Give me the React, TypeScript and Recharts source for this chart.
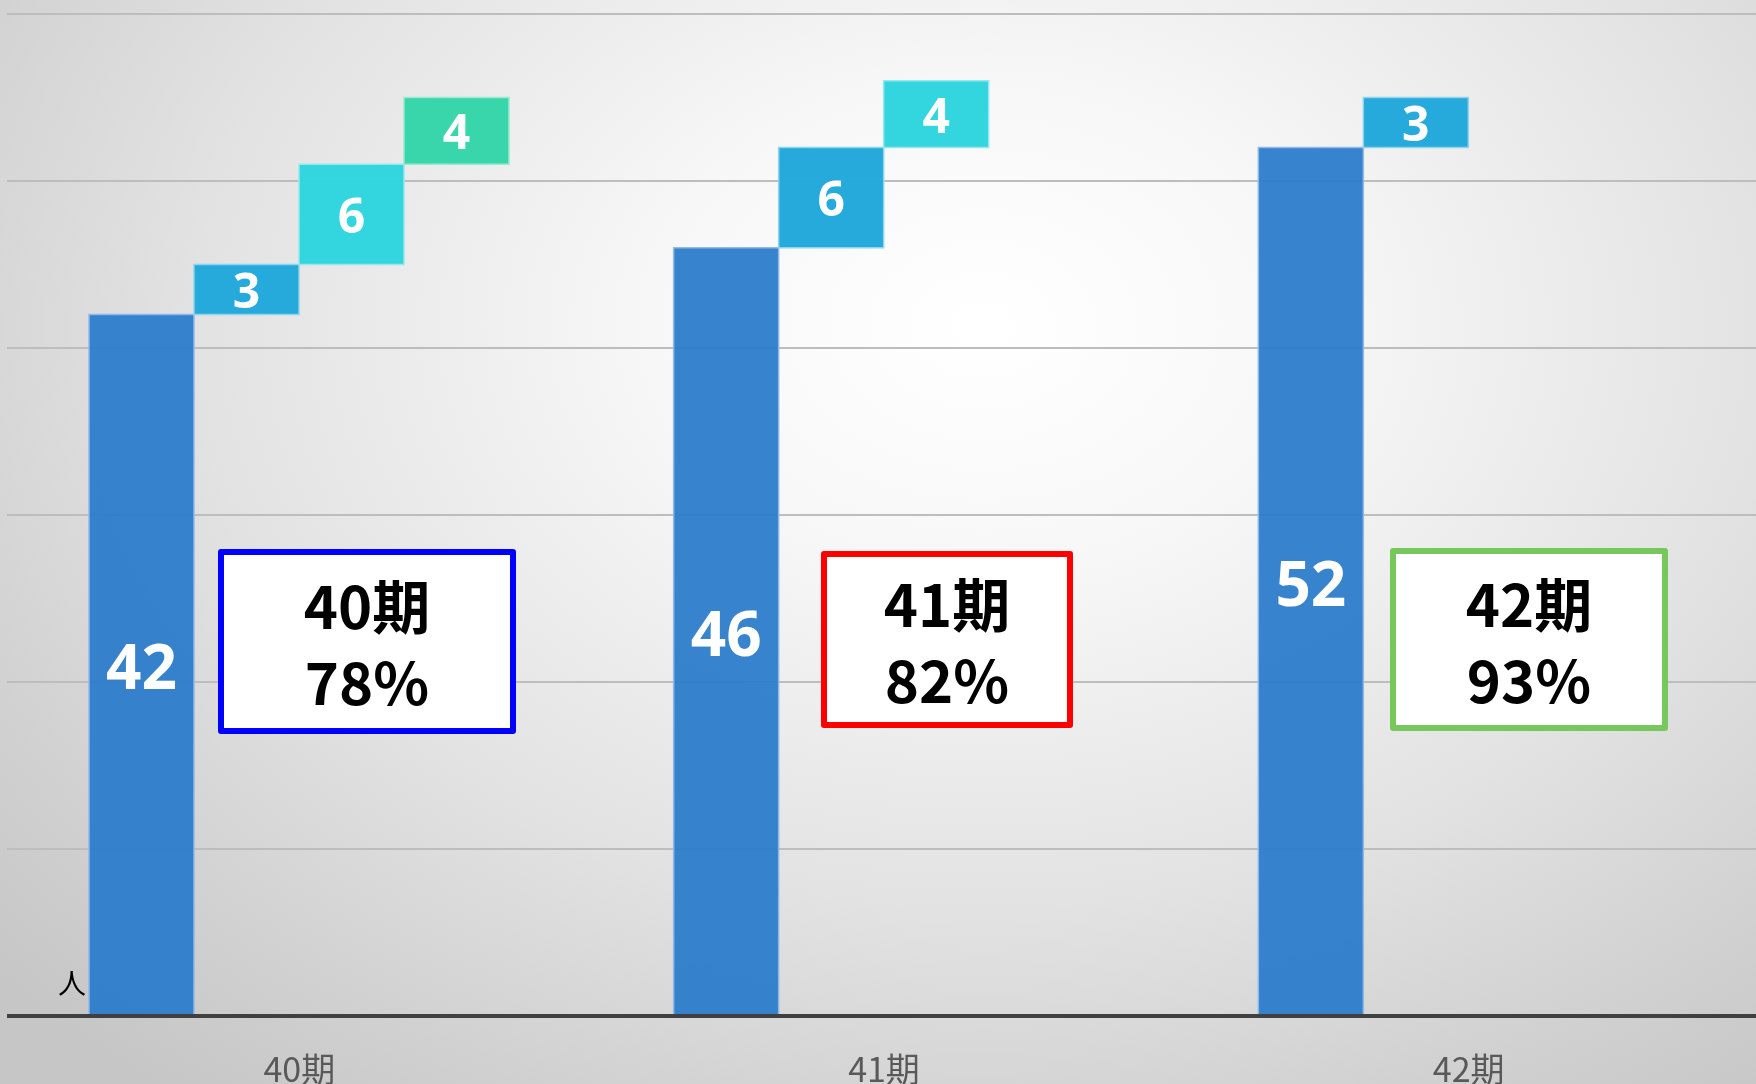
import React from 'react'
import { BarChart, Bar, XAxis, YAxis, CartesianGrid } from 'recharts'

const periods = ['40期', '41期', '42期']
const totals = [42, 46, 52]
const step1 = [3, 6, 3]
const step2: (number | null)[] = [6, 4, null]
const step3: (number | null)[] = [4, null, null]
const yTicks = [0, 10, 20, 30, 40, 50, 60]

const rateTitles = ['40期', '41期', '42期']
const rates = ['78%', '82%', '93%']
const rateColors = ['#0000ff', '#ff0000', '#77c85c']
const boxBoxes = [
  { left: 218, top: 549, width: 298, height: 185 },
  { left: 821, top: 551, width: 252, height: 177 },
  { left: 1390, top: 548, width: 278, height: 183 },
]

const steps = [step1, step2, step3]

// floating bars: each step starts where the previous one ended
const data = periods.map((p, i) => {
  const row: any = { name: p, total: [0, totals[i]] }
  let base = totals[i]
  steps.forEach((s, k) => {
    const v = s[i]
    if (v != null) {
      row['s' + (k + 1)] = [base, base + v]
      base += v
    }
  })
  return row
})

const labelFont = '"Open Sans", "Noto Sans", sans-serif'

function makeLabel(values: (number | null)[], size: number) {
  return (props: any) => {
    const { x, y, width, height, index } = props
    const v = values[index]
    if (v == null) return null
    return (
      <text
        x={x + width / 2}
        y={y + height / 2}
        textAnchor="middle"
        dominantBaseline="central"
        fill="#fff"
        fontSize={size}
        fontWeight={700}
        fontFamily={labelFont}
      >
        {v}
      </text>
    )
  }
}

function PeriodTick(props: any) {
  const { x, y, payload } = props
  return (
    <text
      x={x}
      y={y + 43}
      textAnchor="middle"
      dominantBaseline="central"
      fill="#595959"
      fontSize={34}
      fontFamily='"Noto Sans CJK JP", sans-serif'
    >
      {payload.value}
    </text>
  )
}

export default function App() {
  return (
    <div
      style={{
        position: 'fixed',
        left: 0,
        top: 0,
        width: 1756,
        height: 1084,
        overflow: 'hidden',
        background:
          'radial-gradient(ellipse 75% 90% at 56% 30%, #ffffff 0%, #f7f7f7 25%, #e2e2e2 60%, #d0d0d0 85%, #c6c6c6 100%)',
      }}
    >
      <BarChart
        width={1761}
        height={1084}
        data={data}
        margin={{ top: 14, right: 0, left: 7, bottom: 0 }}
        barSize={105}
        barGap={0}
      >
        <CartesianGrid vertical={false} stroke="#bdbdbd" strokeWidth={2} />
        <YAxis hide domain={[0, 60]} ticks={yTicks} />
        <XAxis
          dataKey="name"
          height={68}
          axisLine={{ stroke: '#404040', strokeWidth: 4 }}
          tickLine={false}
          tick={<PeriodTick />}
        />
        <Bar
          dataKey="total"
          fill="#2c7cca"
          fillOpacity={0.95}
          stroke="#8dbbe6"
          strokeWidth={1.5}
          isAnimationActive={false}
          label={makeLabel(totals, 62)}
        />
        <Bar
          dataKey="s1"
          fill="#22a8db"
          fillOpacity={0.98}
          stroke="#8fd3ee"
          strokeWidth={1.5}
          isAnimationActive={false}
          label={makeLabel(step1, 48)}
        />
        <Bar
          dataKey="s2"
          fill="#2fd5de"
          fillOpacity={0.98}
          stroke="#97e8ec"
          strokeWidth={1.5}
          isAnimationActive={false}
          label={makeLabel(step2, 48)}
        />
        <Bar
          dataKey="s3"
          fill="#35d5a9"
          fillOpacity={0.98}
          stroke="#9ae9d2"
          strokeWidth={1.5}
          isAnimationActive={false}
          label={makeLabel(step3, 48)}
        />
      </BarChart>

      <div
        style={{
          position: 'absolute',
          left: 58,
          top: 962,
          fontSize: 28,
          fontFamily: '"Noto Sans CJK JP", sans-serif',
          color: '#000',
        }}
      >
        人
      </div>

      {boxBoxes.map((b, i) => (
        <div
          key={i}
          style={{
            position: 'absolute',
            left: b.left,
            top: b.top,
            width: b.width,
            height: b.height,
            boxSizing: 'border-box',
            border: `6px solid ${rateColors[i]}`,
            borderRadius: 3,
            background: '#fff',
            display: 'flex',
            flexDirection: 'column',
            alignItems: 'center',
            justifyContent: 'center',
            fontFamily: '"Noto Sans CJK JP", sans-serif',
            fontWeight: 700,
            fontSize: 58,
            lineHeight: '76px',
            color: '#000',
          }}
        >
          <div>{rateTitles[i]}</div>
          <div>{rates[i]}</div>
        </div>
      ))}
    </div>
  )
}
